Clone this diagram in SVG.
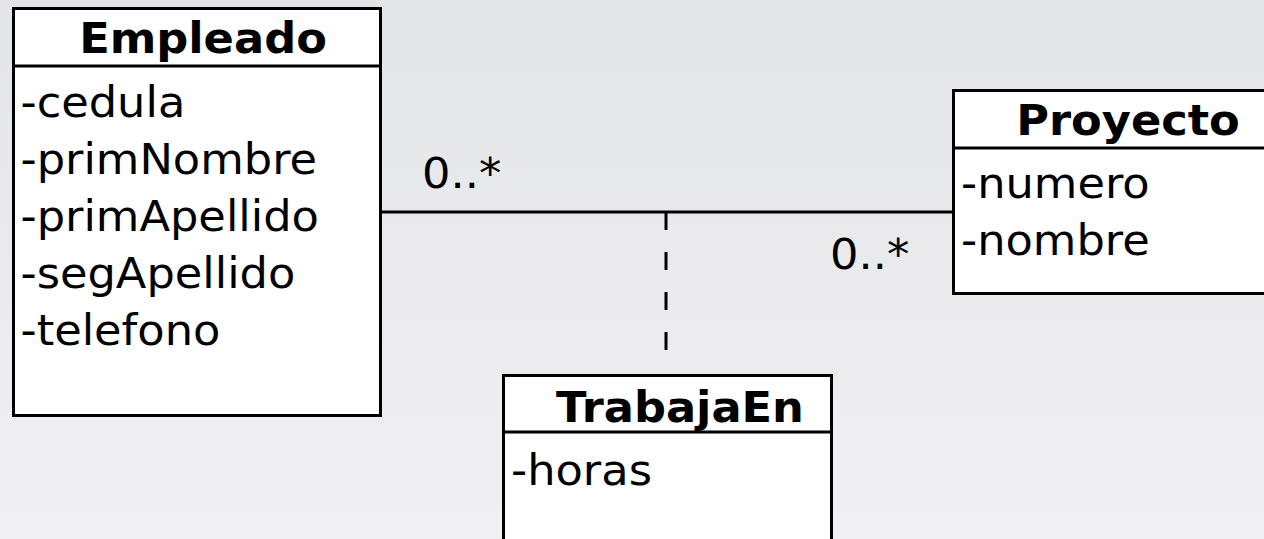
<svg xmlns="http://www.w3.org/2000/svg" width="1264" height="539" viewBox="0 0 1264 539">
<defs>
<linearGradient id="bg" x1="0" y1="0" x2="0" y2="1">
<stop offset="0" stop-color="#e4e5e8"/>
<stop offset="1" stop-color="#f0f0f2"/>
</linearGradient>
</defs>
<style>
.box{fill:#ffffff;stroke:#000;stroke-width:3}
.div{stroke:#000;stroke-width:3}
.title{font-family:"DejaVu Sans",sans-serif;font-weight:bold;font-size:42px;text-anchor:middle;fill:#000}
.attr{font-family:"DejaVu Sans",sans-serif;font-size:42px;fill:#000}
.conn{stroke:#000;stroke-width:3;fill:none}
.dash{stroke-dasharray:18 22}
</style>
<rect x="0" y="0" width="1264" height="539" fill="url(#bg)"/>
<g id="connectors">
<line class="conn" x1="381" y1="212" x2="953" y2="212"/>
<line class="conn dash" x1="666" y1="212" x2="666" y2="352"/>
<text class="attr" transform="translate(422 188) scale(1.065 1)">0..*</text>
<text class="attr" transform="translate(830 269) scale(1.065 1)">0..*</text>
</g>
<g id="Empleado">
<rect class="box" x="13.5" y="8.5" width="367" height="407"/>
<line class="div" x1="13.5" y1="66" x2="380.5" y2="66"/>
<text class="title" transform="translate(203 53) scale(1.065 1)">Empleado</text>
<text class="attr" transform="translate(20.5 117) scale(1.065 1)">-cedula</text>
<text class="attr" transform="translate(20.5 174) scale(1.065 1)">-primNombre</text>
<text class="attr" transform="translate(20.5 231) scale(1.065 1)">-primApellido</text>
<text class="attr" transform="translate(20.5 288) scale(1.065 1)">-segApellido</text>
<text class="attr" transform="translate(20.5 345) scale(1.065 1)">-telefono</text>
</g>
<g id="Proyecto">
<rect class="box" x="953.5" y="90.5" width="320" height="203"/>
<line class="div" x1="953.5" y1="148" x2="1273.5" y2="148"/>
<text class="title" transform="translate(1128 135) scale(1.065 1)">Proyecto</text>
<text class="attr" transform="translate(961 198) scale(1.065 1)">-numero</text>
<text class="attr" transform="translate(961 255) scale(1.065 1)">-nombre</text>
</g>
<g id="TrabajaEn">
<rect class="box" x="503.5" y="375.5" width="328" height="180"/>
<line class="div" x1="503.5" y1="432" x2="831.5" y2="432"/>
<text class="title" transform="translate(680 422) scale(1.065 1)">TrabajaEn</text>
<text class="attr" transform="translate(511 485) scale(1.065 1)">-horas</text>
</g>
</svg>
